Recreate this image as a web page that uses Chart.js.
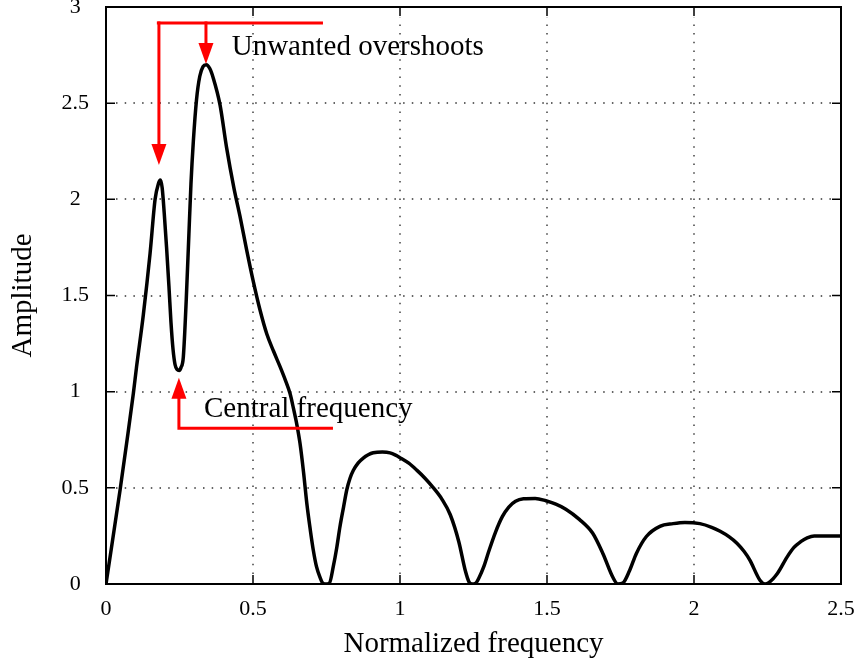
<!DOCTYPE html>
<html><head><meta charset="utf-8">
<script src="https://cdn.jsdelivr.net/npm/chart.js@4.4.1/dist/chart.umd.min.js"></script>
<style>html,body{margin:0;padding:0;background:#fff}#wrap{width:857px;height:666px}</style>
</head><body><div id="wrap"><canvas id="c" width="857" height="666"></canvas></div>
<script>
// ---- data ----
const freq = [0,0.048,0.070,0.093,0.104,0.127,0.150,0.167,0.178,0.185,0.191,0.198,0.206,0.214,0.221,0.228,0.235,0.242,0.249,0.255,0.263,0.273,0.282,0.289,0.297,0.308,0.319,0.330,0.341,0.353,0.365,0.388,0.41,0.435,0.456,0.478,0.50,0.523,0.547,0.57,0.592,0.61,0.626,0.638,0.649,0.66,0.672,0.683,0.695,0.705,0.716,0.728,0.737,0.748,0.76,0.773,0.785,0.796,0.808,0.819,0.83,0.841,0.858,0.875,0.892,0.909,0.94,0.966,0.985,1.0,1.03,1.057,1.085,1.108,1.143,1.171,1.20,1.222,1.235,1.245,1.258,1.268,1.285,1.302,1.325,1.348,1.37,1.393,1.42,1.46,1.496,1.53,1.564,1.61,1.655,1.69,1.724,1.741,1.758,1.781,1.804,1.838,1.884,1.929,1.969,2.02,2.06,2.089,2.12,2.146,2.17,2.19,2.225,2.242,2.253,2.283,2.317,2.34,2.363,2.385,2.409,2.45,2.5];
const amplitude = [0,0.49,0.73,0.99,1.13,1.40,1.72,2.0,2.08,2.10,2.06,1.93,1.75,1.55,1.36,1.22,1.14,1.115,1.11,1.125,1.18,1.48,1.82,2.08,2.30,2.52,2.64,2.69,2.70,2.68,2.63,2.49,2.27,2.06,1.91,1.74,1.58,1.43,1.30,1.21,1.13,1.06,0.99,0.91,0.83,0.73,0.58,0.42,0.28,0.177,0.09,0.035,0.005,0,0.005,0.09,0.19,0.30,0.40,0.49,0.55,0.59,0.63,0.655,0.672,0.682,0.686,0.682,0.67,0.657,0.628,0.592,0.55,0.51,0.44,0.36,0.22,0.07,0.01,0,0.005,0.03,0.09,0.17,0.27,0.35,0.40,0.43,0.443,0.445,0.433,0.415,0.389,0.336,0.265,0.159,0.035,0,0.005,0.07,0.159,0.247,0.30,0.314,0.32,0.314,0.295,0.274,0.245,0.212,0.17,0.124,0.018,0,0.005,0.053,0.141,0.19,0.22,0.24,0.25,0.25,0.25];
const xTicks = [0,0.5,1,1.5,2,2.5];
const yTicks = [0,0.5,1,1.5,2,2.5,3];

// ---- annotation anchors (data units) ----
const bracketY = 2.917;
const bracketX = [0.173, 0.738];
const downArrowX = [0.180, 0.340];
const downArrowTipY = [2.178, 2.704];
const upArrowX = 0.248;
const upArrowTipY = 1.073;
const upBarY = 0.8095;
const upBarEndX = 0.772;
const noteText = ["Unwanted overshoots", "Central frequency"];
const noteX = [0.4276, 0.3333];
const noteY = [2.75, 0.87];

const SERIF = '"Liberation Serif", "Times New Roman", serif';

function arrowHead(ctx, x, tipY, dir) { // dir: +1 pointing down, -1 pointing up
  const len = 21, hw = 7.5;
  ctx.beginPath();
  ctx.moveTo(x, tipY);
  ctx.lineTo(x - hw, tipY - dir * len);
  ctx.lineTo(x + hw, tipY - dir * len);
  ctx.closePath();
  ctx.fill();
}

const decor = {
  id: 'decor',
  beforeDatasetsDraw(chart) {
    const {ctx, chartArea: a, scales: {x, y}} = chart;
    ctx.save();
    ctx.strokeStyle = '#333';
    ctx.lineWidth = 1.4;
    ctx.setLineDash([1.5, 7.2]);
    xTicks.forEach(v => {
      if (v <= x.min || v >= x.max) return;
      const px = Math.round(x.getPixelForValue(v));
      ctx.beginPath(); ctx.moveTo(px, a.bottom - 10); ctx.lineTo(px, a.top + 10); ctx.stroke();
    });
    yTicks.forEach(v => {
      if (v <= y.min || v >= y.max) return;
      const py = Math.round(y.getPixelForValue(v));
      ctx.beginPath(); ctx.moveTo(a.left + 10, py); ctx.lineTo(a.right - 10, py); ctx.stroke();
    });
    ctx.restore();
  },
  afterDatasetsDraw(chart) {
    const {ctx, chartArea: a, scales: {x, y}} = chart;
    ctx.save();
    // inward ticks
    ctx.strokeStyle = '#000';
    ctx.lineWidth = 1.5;
    const tl = 9;
    xTicks.forEach(v => {
      const px = x.getPixelForValue(v);
      ctx.beginPath();
      ctx.moveTo(px, a.bottom); ctx.lineTo(px, a.bottom - tl);
      ctx.moveTo(px, a.top); ctx.lineTo(px, a.top + tl);
      ctx.stroke();
    });
    yTicks.forEach(v => {
      const py = y.getPixelForValue(v);
      ctx.beginPath();
      ctx.moveTo(a.left, py); ctx.lineTo(a.left + tl, py);
      ctx.moveTo(a.right, py); ctx.lineTo(a.right - tl, py);
      ctx.stroke();
    });
    // frame
    ctx.lineWidth = 2;
    ctx.strokeRect(a.left, a.top, a.right - a.left, a.bottom - a.top);

    // red annotations
    ctx.strokeStyle = '#ff0000';
    ctx.fillStyle = '#ff0000';
    ctx.lineWidth = 3;
    ctx.lineCap = 'butt';
    const by = y.getPixelForValue(bracketY);
    ctx.beginPath();
    ctx.moveTo(x.getPixelForValue(bracketX[0]), by);
    ctx.lineTo(x.getPixelForValue(bracketX[1]), by);
    ctx.stroke();
    downArrowX.forEach((vx, i) => {
      const px = x.getPixelForValue(vx);
      const tip = y.getPixelForValue(downArrowTipY[i]);
      ctx.beginPath(); ctx.moveTo(px, by - 1.5); ctx.lineTo(px, tip - 18); ctx.stroke();
      arrowHead(ctx, px, tip, 1);
    });
    const ux = x.getPixelForValue(upArrowX);
    const uy = y.getPixelForValue(upBarY);
    const utip = y.getPixelForValue(upArrowTipY);
    ctx.beginPath();
    ctx.moveTo(ux, utip + 18); ctx.lineTo(ux, uy); ctx.lineTo(x.getPixelForValue(upBarEndX), uy);
    ctx.stroke();
    arrowHead(ctx, ux, utip, -1);

    // notes
    ctx.fillStyle = '#000';
    ctx.font = '29px ' + SERIF;
    ctx.textBaseline = 'alphabetic';
    ctx.textAlign = 'left';
    noteText.forEach((t, i) => {
      ctx.fillText(t, x.getPixelForValue(noteX[i]), y.getPixelForValue(noteY[i]));
    });
    ctx.restore();
  }
};

new Chart(document.getElementById('c'), {
  type: 'line',
  data: {
    datasets: [{
      data: freq.map((f, i) => ({x: f, y: amplitude[i]})),
      borderColor: '#000',
      borderWidth: 3.5,
      pointRadius: 0,
      fill: false,
      cubicInterpolationMode: 'monotone'
    }]
  },
  options: {
    responsive: false,
    animation: false,
    devicePixelRatio: 1,
    layout: {padding: {top: 7, right: 16, left: 0, bottom: 0}},
    plugins: {legend: {display: false}, tooltip: {enabled: false}},
    scales: {
      x: {
        type: 'linear', min: 0, max: 2.5,
        afterBuildTicks: s => { s.ticks = xTicks.map(v => ({value: v})); },
        afterFit: s => { s.height = 82; s.paddingLeft = 0; s.paddingRight = 0; },
        grid: {display: false, drawTicks: false},
        border: {display: false},
        ticks: {
          font: {family: SERIF, size: 22, lineHeight: 1.2}, color: '#000', padding: 12,
          maxRotation: 0, autoSkip: false, callback: v => String(v)
        },
        title: {
          display: true, text: 'Normalized frequency', color: '#000',
          font: {family: SERIF, size: 29, lineHeight: 1}, padding: {top: 0, bottom: 7}
        }
      },
      y: {
        type: 'linear', min: 0, max: 3,
        afterBuildTicks: s => { s.ticks = yTicks.map(v => ({value: v})); },
        afterFit: s => { s.width = 106; s.paddingTop = 0; s.paddingBottom = 0; },
        grid: {display: false, drawTicks: false},
        border: {display: false},
        ticks: {
          font: {family: SERIF, size: 22, lineHeight: 1.2}, color: '#000', padding: 17,
          crossAlign: 'center', autoSkip: false, callback: v => String(v)
        },
        title: {
          display: true, text: 'Amplitude', color: '#000',
          font: {family: SERIF, size: 29, lineHeight: 1}, padding: {top: 9, bottom: 0}
        }
      }
    }
  },
  plugins: [decor]
});
</script>
</body></html>
